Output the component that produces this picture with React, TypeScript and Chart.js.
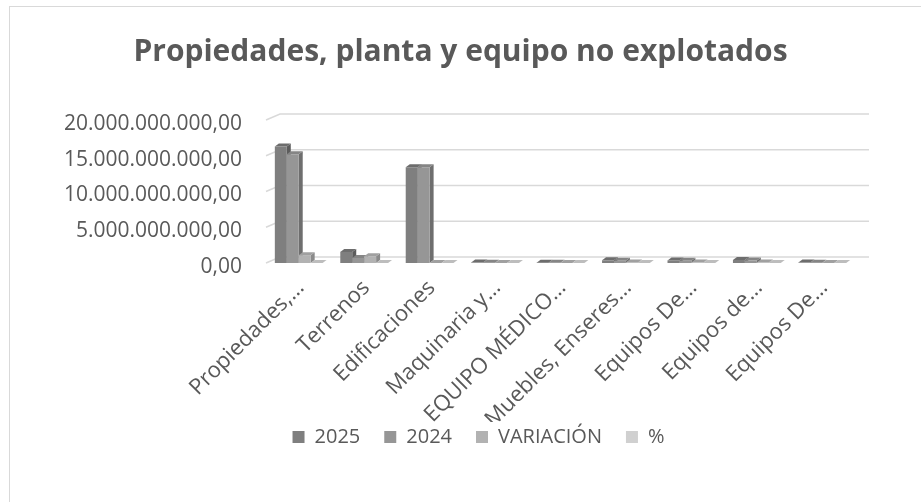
import React, { useEffect, useRef } from "react";
import { Chart, registerables } from "chart.js";

Chart.register(...registerables);

const FONT = "'Open Sans', sans-serif";
const TEXT_COLOR = "#595959";

const chartTitle = "Propiedades, planta y equipo no explotados";
const categories = [
  "Propiedades,…",
  "Terrenos",
  "Edificaciones",
  "Maquinaria y…",
  "EQUIPO MÉDICO…",
  "Muebles, Enseres…",
  "Equipos De…",
  "Equipos de…",
  "Equipos De…",
];
const seriesNames = ["2025", "2024", "VARIACIÓN", "%"];
const values2025 = [16.3e9, 1.55e9, 13.4e9, 0.06e9, 0.04e9, 0.38e9, 0.36e9, 0.42e9, 0.06e9];
const values2024 = [15.2e9, 0.7e9, 13.4e9, 0.05e9, 0.04e9, 0.3e9, 0.3e9, 0.35e9, 0.05e9];
const valuesVariacion = [1.1e9, 0.95e9, 0, 0.01e9, 0, 0.08e9, 0.06e9, 0.07e9, 0.01e9];
const valuesPct = [7.2, 121, 0, 20, 0, 26, 20, 20, 20];
const yTickValues = [0, 5e9, 10e9, 15e9, 20e9];

const frontColors = ["#7f7f7f", "#969696", "#b2b2b2", "#d0d0d0"];
const sideColors = ["#5c5c5c", "#6e6e6e", "#8a8a8a", "#a8a8a8"];
const topColors = ["#6d6d6d", "#858585", "#a0a0a0", "#bdbdbd"];

const BAR_DX = 4;
const BAR_DY = 3;
const GRID_DX = 14;
const GRID_DY = 6;
const LEGEND_SHIFT_X = 18;
const LEGEND_SHIFT_Y = -19;

function formatEs(v: number): string {
  const s = Math.round(v).toString().replace(/\B(?=(\d{3})+(?!\d))/g, ".");
  return s + ",00";
}

const threeDPlugin = {
  id: "threeD",
  afterLayout(chart: any) {
    const lg = chart.legend;
    if (lg) {
      lg.left += LEGEND_SHIFT_X;
      lg.right += LEGEND_SHIFT_X;
      lg.top += LEGEND_SHIFT_Y;
      lg.bottom += LEGEND_SHIFT_Y;
    }
  },
  beforeDatasetsDraw(chart: any) {
    const { ctx, chartArea, scales } = chart;
    const y = scales.y;
    ctx.save();
    ctx.strokeStyle = "#d9d9d9";
    ctx.lineWidth = 1.5;
    yTickValues.forEach((v) => {
      const py = y.getPixelForValue(v);
      ctx.beginPath();
      ctx.moveTo(chartArea.left, py);
      ctx.lineTo(chartArea.left + GRID_DX, py - GRID_DY);
      ctx.lineTo(chartArea.right + GRID_DX, py - GRID_DY);
      ctx.stroke();
    });
    chart.data.datasets.forEach((_ds: any, di: number) => {
      const meta = chart.getDatasetMeta(di);
      meta.data.forEach((bar: any) => {
        const { x, y: top, base, width } = bar.getProps(["x", "y", "base", "width"], true);
        const l = x - width / 2;
        const r = x + width / 2;
        ctx.fillStyle = sideColors[di];
        ctx.beginPath();
        ctx.moveTo(r, top);
        ctx.lineTo(r + BAR_DX, top - BAR_DY);
        ctx.lineTo(r + BAR_DX, base - BAR_DY);
        ctx.lineTo(r, base);
        ctx.closePath();
        ctx.fill();
        ctx.fillStyle = topColors[di];
        ctx.beginPath();
        ctx.moveTo(l, top);
        ctx.lineTo(l + BAR_DX, top - BAR_DY);
        ctx.lineTo(r + BAR_DX, top - BAR_DY);
        ctx.lineTo(r, top);
        ctx.closePath();
        ctx.fill();
      });
    });
    ctx.restore();
  },
};

export default function App() {
  const canvasRef = useRef<HTMLCanvasElement | null>(null);

  useEffect(() => {
    if (!canvasRef.current) return;
    Chart.defaults.font.family = FONT;
    const seriesValues = [values2025, values2024, valuesVariacion, valuesPct];
    const chart = new Chart(canvasRef.current, {
      type: "bar",
      data: {
        labels: categories,
        datasets: seriesNames.map((name, i) => ({
          label: name,
          data: seriesValues[i],
          backgroundColor: frontColors[i],
          borderWidth: 0,
          categoryPercentage: 0.73,
          barPercentage: 1,
        })),
      },
      options: {
        responsive: false,
        animation: false,
        layout: { padding: { left: 0, right: 0, top: 0, bottom: 26 } },
        plugins: {
          title: {
            display: true,
            text: chartTitle,
            color: TEXT_COLOR,
            font: { family: FONT, size: 30, weight: "bold" },
            padding: { top: 34, bottom: 50 },
          },
          legend: {
            position: "bottom",
            labels: {
              boxWidth: 12,
              boxHeight: 12,
              padding: 24,
              color: TEXT_COLOR,
              font: { family: FONT, size: 20 },
            },
          },
          tooltip: { enabled: false },
        },
        scales: {
          x: {
            grid: { display: false, drawTicks: false },
            border: { display: false },
            ticks: {
              color: TEXT_COLOR,
              font: { family: FONT, size: 22 },
              minRotation: 45,
              maxRotation: 45,
              autoSkip: false,
              padding: 12,
              labelOffset: 2,
            },
            afterFit: (s: any) => {
              s.height = 159;
            },
          },
          y: {
            min: 0,
            max: 20e9,
            grid: { display: false, drawTicks: false },
            border: { display: false },
            ticks: {
              stepSize: 5e9,
              color: TEXT_COLOR,
              font: { family: FONT, size: 21 },
              padding: 24,
              labelOffset: 4,
              callback: (v: any) => formatEs(Number(v)),
            },
            afterFit: (s: any) => {
              s.width = 266;
            },
          },
          yr: {
            position: "right",
            display: true,
            grid: { display: false, drawTicks: false },
            border: { display: false },
            ticks: { display: false },
            afterFit: (s: any) => {
              s.width = 66;
            },
          },
        },
      } as any,
      plugins: [threeDPlugin],
    });
    return () => chart.destroy();
  }, []);

  return (
    <div
      style={{
        position: "fixed",
        left: 0,
        top: 0,
        width: 921,
        height: 502,
        background: "#ffffff",
        overflow: "hidden",
      }}
    >
      <div
        style={{
          position: "absolute",
          left: 9,
          top: 6,
          width: 940,
          height: 520,
          border: "1.5px solid #d9d9d9",
        }}
      />
      <canvas
        ref={canvasRef}
        width={921}
        height={502}
        style={{ position: "absolute", left: 0, top: 0 }}
      />
    </div>
  );
}
